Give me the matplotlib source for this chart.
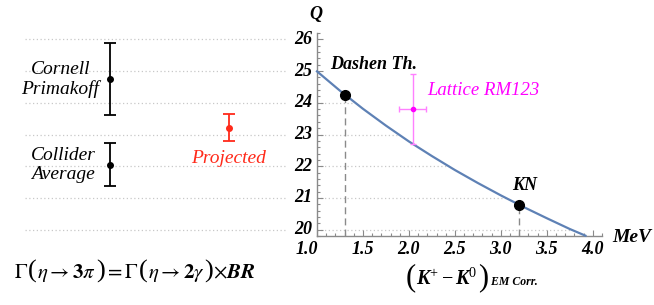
import numpy as np
import matplotlib
matplotlib.use("Agg")
import matplotlib.pyplot as plt
import matplotlib.transforms as mtransforms
from matplotlib.ticker import MultipleLocator

plt.rcParams['font.family'] = ['Liberation Serif', 'DejaVu Serif']
plt.rcParams['mathtext.fontset'] = 'custom'
plt.rcParams['mathtext.rm'] = 'Liberation Serif'
plt.rcParams['mathtext.it'] = 'Liberation Serif:italic'
plt.rcParams['mathtext.bf'] = 'Liberation Serif:bold'
plt.rcParams['mathtext.bfit'] = 'Liberation Serif:italic:bold'

# curve Q vs (K+ - K0) EM correction
curve_x = [1.0, 1.25, 1.5, 1.75, 2.0, 2.25, 2.5, 2.75, 3.0, 3.25, 3.5, 3.75, 3.92]
curve_q = [24.99, 24.38, 23.81, 23.28, 22.78, 22.32, 21.88, 21.47, 21.08, 20.71, 20.36, 20.02, 19.81]

# named points on the curve
pt_names = ['Dashen Th.', 'KN']
pt_x = [1.3, 3.2]
pt_q = [24.25, 20.78]

# lattice point
lat_x, lat_xerr = 2.04, 0.15
lat_q, lat_qerr = 23.8, 1.1

# left panel measurements
meas_names = ['Cornell\nPrimakoff', 'Collider\nAverage', 'Projected']
meas_q = [24.74, 22.05, 23.22]
meas_err = [1.13, 0.68, 0.44]

q_ticks = [20, 21, 22, 23, 24, 25, 26]
x_ticks = [1.0, 1.5, 2.0, 2.5, 3.0, 3.5, 4.0]

W, H = 654, 305
fig = plt.figure(figsize=(W / 100, H / 100), dpi=100)
renderer = fig.canvas.get_renderer()


def text_row(pieces, x0, y_base):
    # put pieces one after another on a common baseline (pixel coords from top-left)
    x = x0
    for s, size, kw in pieces:
        t = fig.text(x / W, 1 - y_base / H, s, fontsize=size, ha='left', va='baseline', **kw)
        x += t.get_window_extent(renderer).width


def px_shift(dx, dy):
    return mtransforms.ScaledTranslation(dx / 100, dy / 100, fig.dpi_scale_trans)


ymin, ymax = 19.8, 26.2
ax_bot, ax_top = 236, 33
bottom = (H - ax_bot) / H
height = (ax_bot - ax_top) / H

# ---- left panel
axl = fig.add_axes([25 / W, bottom, (287 - 25) / W, height])
axl.set_xlim(0, 1)
axl.set_ylim(ymin, ymax)
axl.axis('off')
for q in q_ticks:
    axl.axhline(q, color='#c8c8c8', lw=0.9, ls=(0, (1, 2)), zorder=0)

lx = [0.324, 0.324, 0.779]
lcol = ['black', 'black', '#ff2a1a']
for i in range(3):
    axl.errorbar(lx[i], meas_q[i], yerr=meas_err[i], fmt='o', color=lcol[i],
                 ms=4, capsize=4, elinewidth=1.3, capthick=1.3)
axl.text(0.135, meas_q[0], meas_names[0], ha='center', va='center',
         fontsize=14, style='italic', linespacing=1.15)
axl.text(0.145, meas_q[1], meas_names[1], ha='center', va='center',
         fontsize=14, style='italic', linespacing=1.15)
axl.text(0.775, 22.25, meas_names[2], ha='center', va='center',
         fontsize=14, style='italic', color='#ff2a1a')

# ---- right panel
ax = fig.add_axes([317 / W, bottom, (602 - 317) / W, height])
ax.set_xlim(1.0, 4.1)
ax.set_ylim(ymin, ymax)
for s in ['top', 'right']:
    ax.spines[s].set_visible(False)
for s in ['left', 'bottom']:
    ax.spines[s].set_color('#8a8a8a')
    ax.spines[s].set_linewidth(1.0)

ax.set_xticks(x_ticks)
ax.set_yticks(q_ticks)
ax.xaxis.set_minor_locator(MultipleLocator(0.1))
ax.yaxis.set_minor_locator(MultipleLocator(0.2))
ax.tick_params(which='both', direction='in', color='#8a8a8a', width=0.8,
               labelbottom=False, labelleft=False)
ax.tick_params(which='major', length=4)
ax.tick_params(which='minor', length=2)

# tick labels drawn by hand in bold italic
lab_kw = dict(fontsize=13, fontweight='bold', style='italic')
for v in x_ticks:
    dx = -10 if v == x_ticks[0] else 0
    ax.text(v, 0, '%.1f' % v, ha='center', va='top',
            transform=ax.get_xaxis_transform() + px_shift(dx, -5), **lab_kw)
for v in q_ticks:
    ax.text(0, v, str(v), ha='right', va='center',
            transform=ax.get_yaxis_transform() + px_shift(-5, 0), **lab_kw)

# grid lines from the axis to the curve
for q in q_ticks:
    xe = np.interp(q, curve_q[::-1], curve_x[::-1])
    if q <= curve_q[0] + 0.05:
        ax.plot([1.0, xe], [q, q], color='#c8c8c8', lw=0.9, ls=(0, (1, 2)), zorder=1)

ax.plot(curve_x, curve_q, color='#5e81b5', lw=1.6, zorder=3, clip_on=False)

for px, pq in zip(pt_x, pt_q):
    ax.plot([px, px], [ymin, pq], color='#8a8a8a', lw=1.0, ls=(0, (5, 3)), zorder=2)
    ax.plot(px, pq, 'o', color='black', ms=7, zorder=4)

ax.errorbar(lat_x, lat_q, xerr=lat_xerr, yerr=lat_qerr, fmt='o', color='#ff00ff',
            ecolor='#ff80ff', ms=3, capsize=2.5, elinewidth=1.0, capthick=1.0, zorder=3)

ax.text(1.14, 25.2, pt_names[0], fontsize=13, fontweight='bold', style='italic',
        ha='left', va='center')
ax.text(3.26, 21.38, pt_names[1], fontsize=13, fontweight='bold', style='italic',
        ha='center', va='center')
ax.text(2.2, 24.38, 'Lattice RM123', fontsize=13.5, style='italic', color='#ff00ff',
        ha='left', va='center')

fig.text(316 / W, 1 - 15 / H, 'Q', fontsize=13, fontweight='bold', style='italic',
         ha='center', va='center')
fig.text(612 / W, 1 - 237 / H, 'MeV', fontsize=14, fontweight='bold', style='italic',
         ha='left', va='center')

# x label: tall parentheses around K+ - K0, subscript to the right
text_row([('(', 22, {}),
          (r'$\mathbfit{K}^{+}-\mathbfit{K}^{0}$', 14.5, {}),
          (')', 22, {}),
          (' EM Corr.', 8.5, {'fontweight': 'bold', 'style': 'italic'})],
         406, 285)

# width formula
gam = {'math_fontfamily': 'stix'}
text_row([(r'$\Gamma$', 15, gam), ('(', 19, {}),
          (r'$\eta\rightarrow \mathbf{3}\pi$', 15, gam), (')', 19, {}),
          (r'$=\Gamma$', 15, gam), ('(', 19, {}),
          (r'$\eta\rightarrow \mathbf{2}\gamma$', 15, gam), (')', 19, {}),
          (r'$\times\mathbfit{BR}$', 15, gam)],
         14, 278)

fig.savefig('out.png', dpi=100)
